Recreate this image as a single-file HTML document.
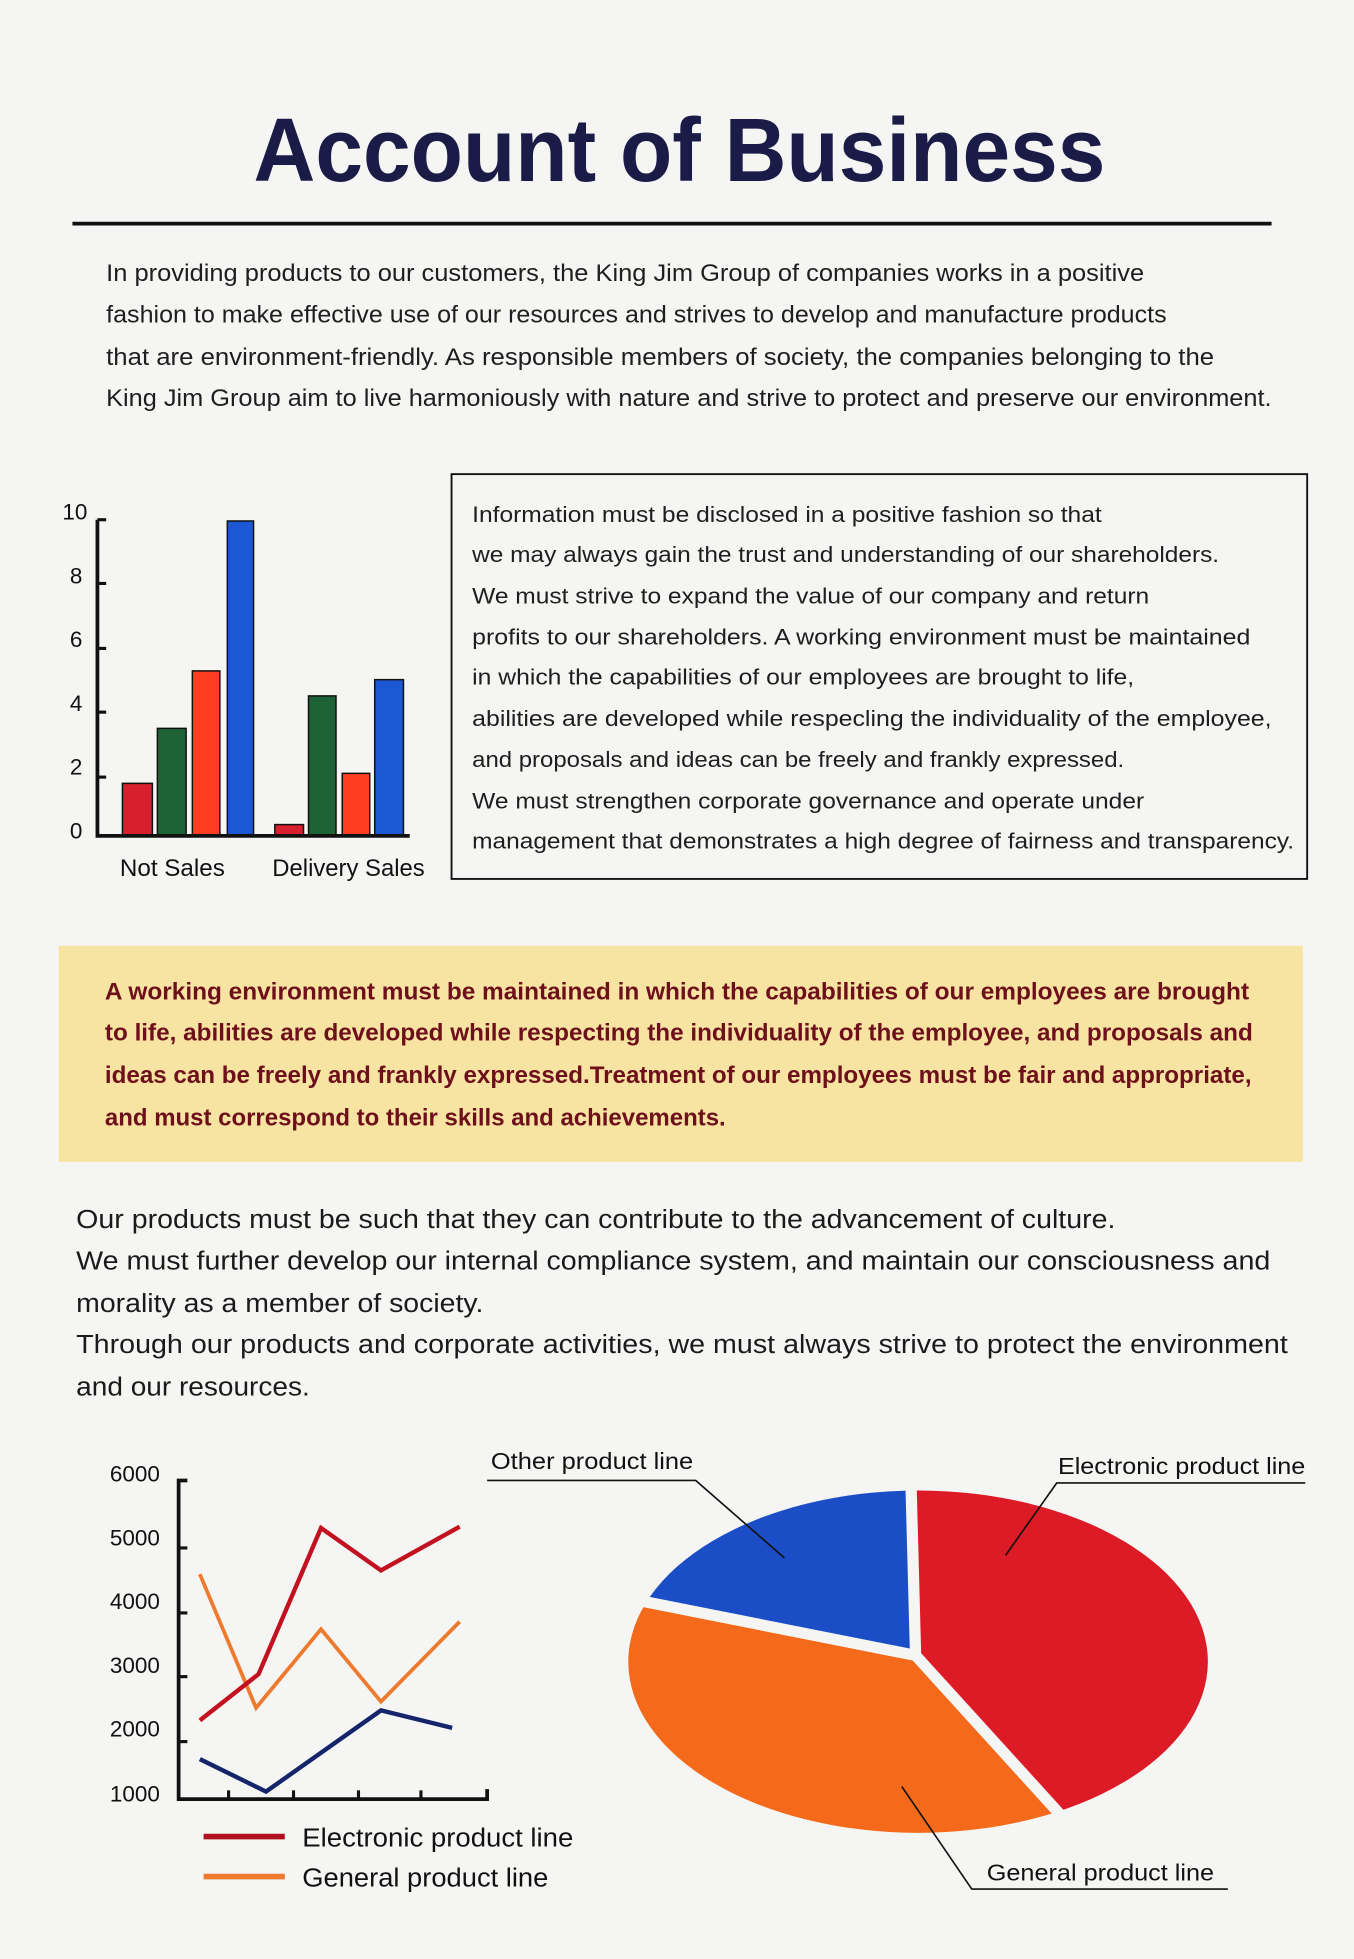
<!DOCTYPE html>
<html><head><meta charset="utf-8"><style>
html,body{margin:0;padding:0;background:#f5f5f3;}
svg{display:block;}
text{font-family:"Liberation Sans",sans-serif;}
</style></head><body>
<svg width="1354" height="1959" viewBox="0 0 1084 1568" preserveAspectRatio="none" xmlns="http://www.w3.org/2000/svg">
<defs><clipPath id="pc"><ellipse cx="735" cy="1330" rx="232" ry="137"/></clipPath></defs>
<rect x="0" y="0" width="1084" height="1568" fill="#f5f5f3"/>
<text x="203" y="145" font-size="72" font-weight="bold" fill="#1b1b48" textLength="682" lengthAdjust="spacingAndGlyphs">Account of Business</text>
<rect x="58" y="177.5" width="960" height="3" fill="#111"/>
<g font-size="19" fill="#1e1e1e">
<text x="85" y="225" textLength="831" lengthAdjust="spacingAndGlyphs">In providing products to our customers,   the King Jim Group of companies works in a positive</text>
<text x="85" y="258" textLength="849" lengthAdjust="spacingAndGlyphs">fashion to make effective use of our resources and strives to develop and manufacture products</text>
<text x="85" y="292" textLength="887" lengthAdjust="spacingAndGlyphs">that are environment-friendly. As responsible members of society,   the companies belonging to the</text>
<text x="85" y="325" textLength="933" lengthAdjust="spacingAndGlyphs">King Jim Group aim to live harmoniously with nature and strive to protect and preserve our environment.</text>
</g>
<g font-size="18" fill="#111">
<text x="70" y="416" text-anchor="end">10</text>
<text x="66" y="467" text-anchor="end">8</text>
<text x="66" y="518" text-anchor="end">6</text>
<text x="66" y="569" text-anchor="end">4</text>
<text x="66" y="620" text-anchor="end">2</text>
<text x="66" y="671" text-anchor="end">0</text>
</g>
<g stroke="#111" stroke-width="1.2">
<rect x="98" y="627" width="24" height="42" fill="#d81f2e"/>
<rect x="126" y="583" width="23" height="86" fill="#1e6335"/>
<rect x="154" y="537" width="22" height="132" fill="#ff3d20"/>
<rect x="182" y="417" width="21" height="252" fill="#1c58d4"/>
<rect x="220" y="660" width="23" height="9" fill="#d81f2e"/>
<rect x="247" y="557" width="22" height="112" fill="#1e6335"/>
<rect x="274" y="619" width="22" height="50" fill="#ff3d20"/>
<rect x="300" y="544" width="23" height="125" fill="#1c58d4"/>
</g>
<path d="M78,416 L78,669 L328,669" fill="none" stroke="#111" stroke-width="3"/>
<g stroke="#111" stroke-width="2.5">
<line x1="78" y1="416" x2="85" y2="416"/><line x1="78" y1="467" x2="85" y2="467"/><line x1="78" y1="519" x2="85" y2="519"/><line x1="78" y1="570" x2="85" y2="570"/><line x1="78" y1="622" x2="85" y2="622"/>
</g>
<text x="96" y="701" font-size="19" fill="#111" textLength="84" lengthAdjust="spacingAndGlyphs">Not Sales</text>
<text x="218" y="701" font-size="19" fill="#111" textLength="122" lengthAdjust="spacingAndGlyphs">Delivery Sales</text>
<rect x="361.5" y="379.5" width="685" height="324" fill="none" stroke="#111" stroke-width="1.5"/>
<g font-size="18" fill="#1e1e1e">
<text x="378" y="418" textLength="504" lengthAdjust="spacingAndGlyphs">Information must be disclosed in a positive fashion so that</text>
<text x="378" y="450" textLength="598" lengthAdjust="spacingAndGlyphs">we may always gain the trust and understanding of our shareholders.</text>
<text x="378" y="483" textLength="542" lengthAdjust="spacingAndGlyphs">We must strive to expand the value of our company and return</text>
<text x="378" y="516" textLength="623" lengthAdjust="spacingAndGlyphs">profits to our shareholders. A working environment must be maintained</text>
<text x="378" y="548" textLength="530" lengthAdjust="spacingAndGlyphs">in which the capabilities of our employees are brought to life,</text>
<text x="378" y="581" textLength="640" lengthAdjust="spacingAndGlyphs">abilities are developed while respecling the individuality of the employee,</text>
<text x="378" y="614" textLength="522" lengthAdjust="spacingAndGlyphs">and proposals and ideas can be freely and frankly expressed.</text>
<text x="378" y="647" textLength="538" lengthAdjust="spacingAndGlyphs">We must strengthen corporate governance and operate under</text>
<text x="378" y="679" textLength="658" lengthAdjust="spacingAndGlyphs">management that demonstrates a high degree of fairness and transparency.</text>
</g>
<rect x="47" y="757" width="996" height="173" fill="#f7e4a2"/>
<g font-size="19.5" fill="#6e0f1c" font-weight="bold">
<text x="84" y="800" textLength="916" lengthAdjust="spacingAndGlyphs">A working environment must be maintained in which the capabilities of our employees are brought</text>
<text x="84" y="833" textLength="919" lengthAdjust="spacingAndGlyphs">to life, abilities are developed while respecting the individuality of the employee, and proposals and</text>
<text x="84" y="867" textLength="918" lengthAdjust="spacingAndGlyphs">ideas can be freely and frankly expressed.Treatment of our employees must be fair and appropriate,</text>
<text x="84" y="901" textLength="497" lengthAdjust="spacingAndGlyphs">and must correspond to their skills and achievements.</text>
</g>
<g font-size="21" fill="#1a1a1a">
<text x="61" y="983" textLength="832" lengthAdjust="spacingAndGlyphs">Our products must be such that they can contribute to the advancement of culture.</text>
<text x="61" y="1016" textLength="956" lengthAdjust="spacingAndGlyphs">We must further develop our internal compliance system,   and maintain our consciousness and</text>
<text x="61" y="1050" textLength="326" lengthAdjust="spacingAndGlyphs">morality as a member of society.</text>
<text x="61" y="1083" textLength="970" lengthAdjust="spacingAndGlyphs">Through our products and corporate activities, we must always strive to protect the environment</text>
<text x="61" y="1117" textLength="187" lengthAdjust="spacingAndGlyphs">and our resources.</text>
</g>
<g font-size="18" fill="#111">
<text x="128" y="1186" text-anchor="end">6000</text>
<text x="128" y="1237" text-anchor="end">5000</text>
<text x="128" y="1288" text-anchor="end">4000</text>
<text x="128" y="1339" text-anchor="end">3000</text>
<text x="128" y="1390" text-anchor="end">2000</text>
<text x="128" y="1442" text-anchor="end">1000</text>
</g>
<path d="M150,1185 L143,1185 L143,1440 L390,1440 L390,1432" fill="none" stroke="#111" stroke-width="3"/>
<g stroke="#111" stroke-width="2.5">
<line x1="143" y1="1239" x2="150" y2="1239"/><line x1="143" y1="1291" x2="150" y2="1291"/><line x1="143" y1="1342" x2="150" y2="1342"/><line x1="143" y1="1394" x2="150" y2="1394"/>
<line x1="183" y1="1440" x2="183" y2="1433"/><line x1="235" y1="1440" x2="235" y2="1433"/><line x1="287" y1="1440" x2="287" y2="1433"/><line x1="337" y1="1440" x2="337" y2="1433"/>
</g>
<polyline points="160,1260 205,1367 257,1304 305,1362 368,1298" fill="none" stroke="#ee7a2e" stroke-width="3"/>
<polyline points="160,1377 207,1340 257,1223 305,1257 368,1222" fill="none" stroke="#c3121f" stroke-width="3.5"/>
<polyline points="160,1408 213,1434 305,1369 362,1383" fill="none" stroke="#14256b" stroke-width="3.5"/>
<line x1="163" y1="1470" x2="228" y2="1470" stroke="#b0101e" stroke-width="4.5"/>
<line x1="163" y1="1502" x2="228" y2="1502" stroke="#ee7a2e" stroke-width="4.5"/>
<text x="242" y="1478" font-size="21" fill="#111" textLength="217" lengthAdjust="spacingAndGlyphs">Electronic product line</text>
<text x="242" y="1510" font-size="21" fill="#111" textLength="197" lengthAdjust="spacingAndGlyphs">General product line</text>
<g clip-path="url(#pc)">
<polygon points="733,1325 727,1100 1100,1100 1100,1600 983,1600" fill="#dc1b26"/>
<polygon points="733,1325 983,1600 400,1600 400,1259" fill="#f46a1a"/>
<polygon points="733,1325 400,1259 400,1100 727,1100" fill="#1b4ec6"/>
</g>
<g stroke="#f5f5f3" stroke-width="9" fill="none">
<line x1="733" y1="1325" x2="983" y2="1600"/>
<line x1="733" y1="1325" x2="400" y2="1259"/>
<line x1="733" y1="1325" x2="727" y2="1100"/>
</g>
<g stroke="#111" stroke-width="1.3" fill="none">
<path d="M390,1185 L557,1185 L628,1247"/>
<path d="M1045,1187 L846,1187 L805,1245"/>
<path d="M983,1512 L778,1512 L722,1430"/>
</g>
<g font-size="18.5" fill="#111">
<text x="393" y="1176" textLength="162" lengthAdjust="spacingAndGlyphs">Other product line</text>
<text x="847" y="1180" textLength="198" lengthAdjust="spacingAndGlyphs">Electronic product line</text>
<text x="790" y="1505" textLength="182" lengthAdjust="spacingAndGlyphs">General product line</text>
</g>
</svg>
</body></html>
